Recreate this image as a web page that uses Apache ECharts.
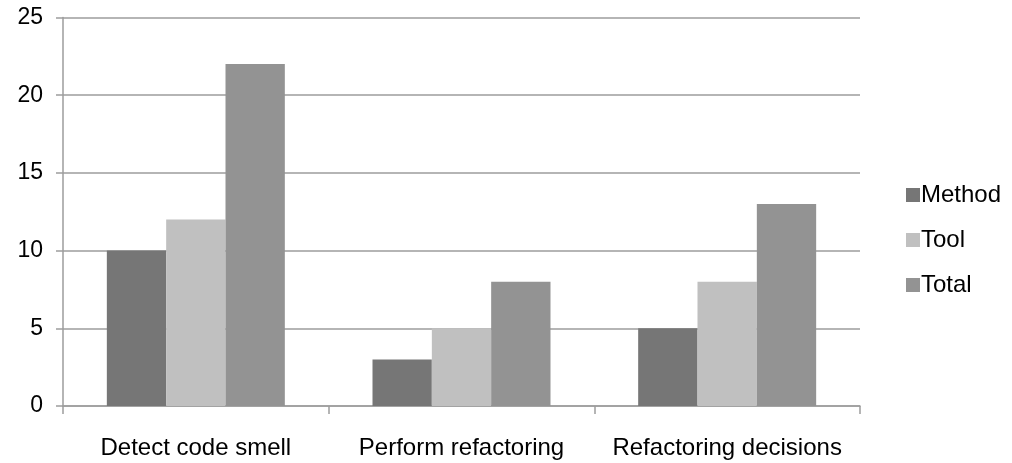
<!DOCTYPE html>
<html>
<head>
<meta charset="utf-8">
<script src="https://cdn.jsdelivr.net/npm/echarts@6/dist/echarts.min.js"></script>
<style>
    html, body { margin: 0; padding: 0; background: #fff; }
    #chart { width: 1012px; height: 463px; }
</style>
</head>
<body>
<div id="chart"></div>
<script>
    // 数据
    const categories = ["Detect code smell", "Perform refactoring", "Refactoring decisions"];
    const methodData = [10, 3, 5];
    const toolData = [12, 5, 8];
    const totalData = [22, 8, 13];
    const seriesNames = ["Method", "Tool", "Total"];
    const seriesColors = ["#767676", "#c0c0c0", "#939393"];

    const chartInstance = echarts.init(document.getElementById("chart"));
    const font = "Liberation Sans, Arial, sans-serif";

    const option = {
        animation: false,
        textStyle: { fontFamily: font },
        grid: {
            left: 63,
            right: 152,
            top: 17.5,
            bottom: 57
        },
        legend: {
            orient: "vertical",
            left: 901,
            top: 178,
            itemWidth: 14,
            itemHeight: 14,
            itemGap: 21,
            icon: "rect",
            data: seriesNames,
            textStyle: { fontSize: 24, lineHeight: 24, color: "#000", fontFamily: font, padding: [0, 0, 0, -4] }
        },
        xAxis: {
            type: "category",
            data: categories,
            axisLine: { lineStyle: { color: "#9d9d9d", width: 1.5 } },
            axisTick: { show: true, interval: 0, length: 8, lineStyle: { color: "#9d9d9d", width: 1.5 } },
            axisLabel: { interval: 0, hideOverlap: false, fontSize: 24, color: "#000", margin: 30, fontFamily: font }
        },
        yAxis: {
            type: "value",
            min: 0,
            max: 25,
            interval: 5,
            axisLine: { show: true, lineStyle: { color: "#9d9d9d", width: 1.5 } },
            axisTick: { show: true, length: 7, lineStyle: { color: "#9d9d9d", width: 1.5 } },
            axisLabel: { fontSize: 23, color: "#000", margin: 20, fontFamily: font },
            splitLine: { lineStyle: { color: "#9d9d9d", width: 1.5 } }
        },
        series: [
            { name: seriesNames[0], type: "bar", data: methodData, barGap: "0%", barCategoryGap: "33%", itemStyle: { color: seriesColors[0] } },
            { name: seriesNames[1], type: "bar", data: toolData, barGap: "0%", barCategoryGap: "33%", itemStyle: { color: seriesColors[1] } },
            { name: seriesNames[2], type: "bar", data: totalData, barGap: "0%", barCategoryGap: "33%", itemStyle: { color: seriesColors[2] } }
        ]
    };
    chartInstance.setOption(option);
</script>
</body>
</html>
